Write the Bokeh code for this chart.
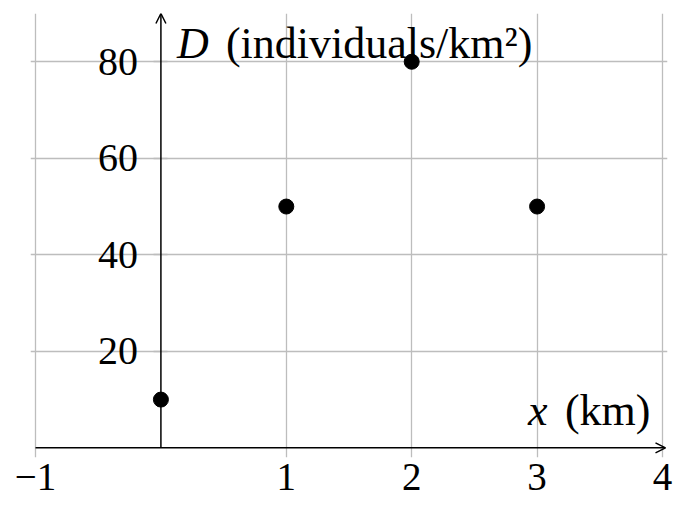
from bokeh.plotting import figure
from bokeh.models import Range1d, FixedTicker, Arrow, OpenHead, CustomJSTickFormatter
from bokeh.core.properties import value
from bokeh.embed import file_html
from bokeh.resources import INLINE

# data
x_km = [0, 1, 2, 3]
density = [10, 50, 80, 50]
x_ticks = [-1, 1, 2, 3, 4]
y_ticks = [20, 40, 60, 80]
x_range = (-1, 4)
y_range = (0, 90)
y_label_main = "D"
y_label_rest = "(individuals/km²)"
x_label_main = "x"
x_label_rest = "(km)"

SERIF = "Liberation Serif"
GRID = "#bdbdbd"
XPAD = 0.04
YPAD = 2

p = figure(frame_width=637, frame_height=444, output_backend="svg", toolbar_location=None,
           x_range=Range1d(x_range[0] - XPAD, x_range[1] + XPAD),
           y_range=Range1d(y_range[0] - YPAD, y_range[1]),
           min_border_left=30, min_border_right=20, min_border_top=13, min_border_bottom=49)
p.outline_line_color = None
p.background_fill_color = "white"
p.border_fill_color = "white"

for ax, ticks in ((p.xaxis, x_ticks), (p.yaxis, y_ticks)):
    ax.ticker = FixedTicker(ticks=ticks)
    ax.axis_line_color = None
    ax.major_tick_line_color = GRID
    ax.major_tick_line_width = 1.3
    ax.minor_tick_line_color = None
    ax.major_label_text_font = SERIF
    ax.major_label_text_font_size = "40px"
    ax.major_label_text_color = "black"
    ax.formatter = CustomJSTickFormatter(code="return tick < 0 ? '\u2212' + Math.abs(tick) : String(tick);")

p.xaxis.major_tick_in = 0
p.xaxis.major_tick_out = 0
p.xaxis.major_label_standoff = 6
p.xaxis.major_label_text_font_size = "39px"
p.yaxis.fixed_location = 0
p.yaxis.major_tick_in = 7
p.yaxis.major_tick_out = 7
p.yaxis.major_label_standoff = 16

p.xgrid.ticker = FixedTicker(ticks=x_ticks)
p.ygrid.ticker = FixedTicker(ticks=y_ticks)
for g in (p.xgrid, p.ygrid):
    g.grid_line_color = GRID
    g.grid_line_width = 1.3

# axis lines with arrows
p.add_layout(Arrow(end=OpenHead(size=10, line_width=1.5, line_color="black"),
                   x_start=x_range[0], y_start=0, x_end=x_range[1] + 0.024, y_end=0,
                   line_color="black", line_width=1.5))
p.add_layout(Arrow(end=OpenHead(size=10, line_width=1.5, line_color="black"),
                   x_start=0, y_start=0, x_end=0, y_end=y_range[1],
                   line_color="black", line_width=1.5))

p.scatter(x_km, density, size=15, color="black")

# axis labels
p.text(x=[0], y=[y_ticks[-1]], text=[y_label_main], x_offset=16, y_offset=-18,
       text_font=value(SERIF), text_font_style="italic", text_font_size="44px",
       text_baseline="alphabetic", text_align="left", text_color="black")
p.text(x=[0], y=[y_ticks[-1]], text=[y_label_rest], x_offset=65, y_offset=-18,
       text_font=value(SERIF), text_font_size="44px",
       text_baseline="alphabetic", text_align="left", text_color="black")
p.text(x=[3], y=[0], text=[x_label_main], x_offset=-9, y_offset=-37,
       text_font=value(SERIF), text_font_style="italic", text_font_size="44px",
       text_baseline="alphabetic", text_align="left", text_color="black")
p.text(x=[x_range[1]], y=[0], text=[x_label_rest], x_offset=-12, y_offset=-37,
       text_font=value(SERIF), text_font_size="44px",
       text_baseline="alphabetic", text_align="right", text_color="black")

open("out.html", "w").write(file_html(p, INLINE))
